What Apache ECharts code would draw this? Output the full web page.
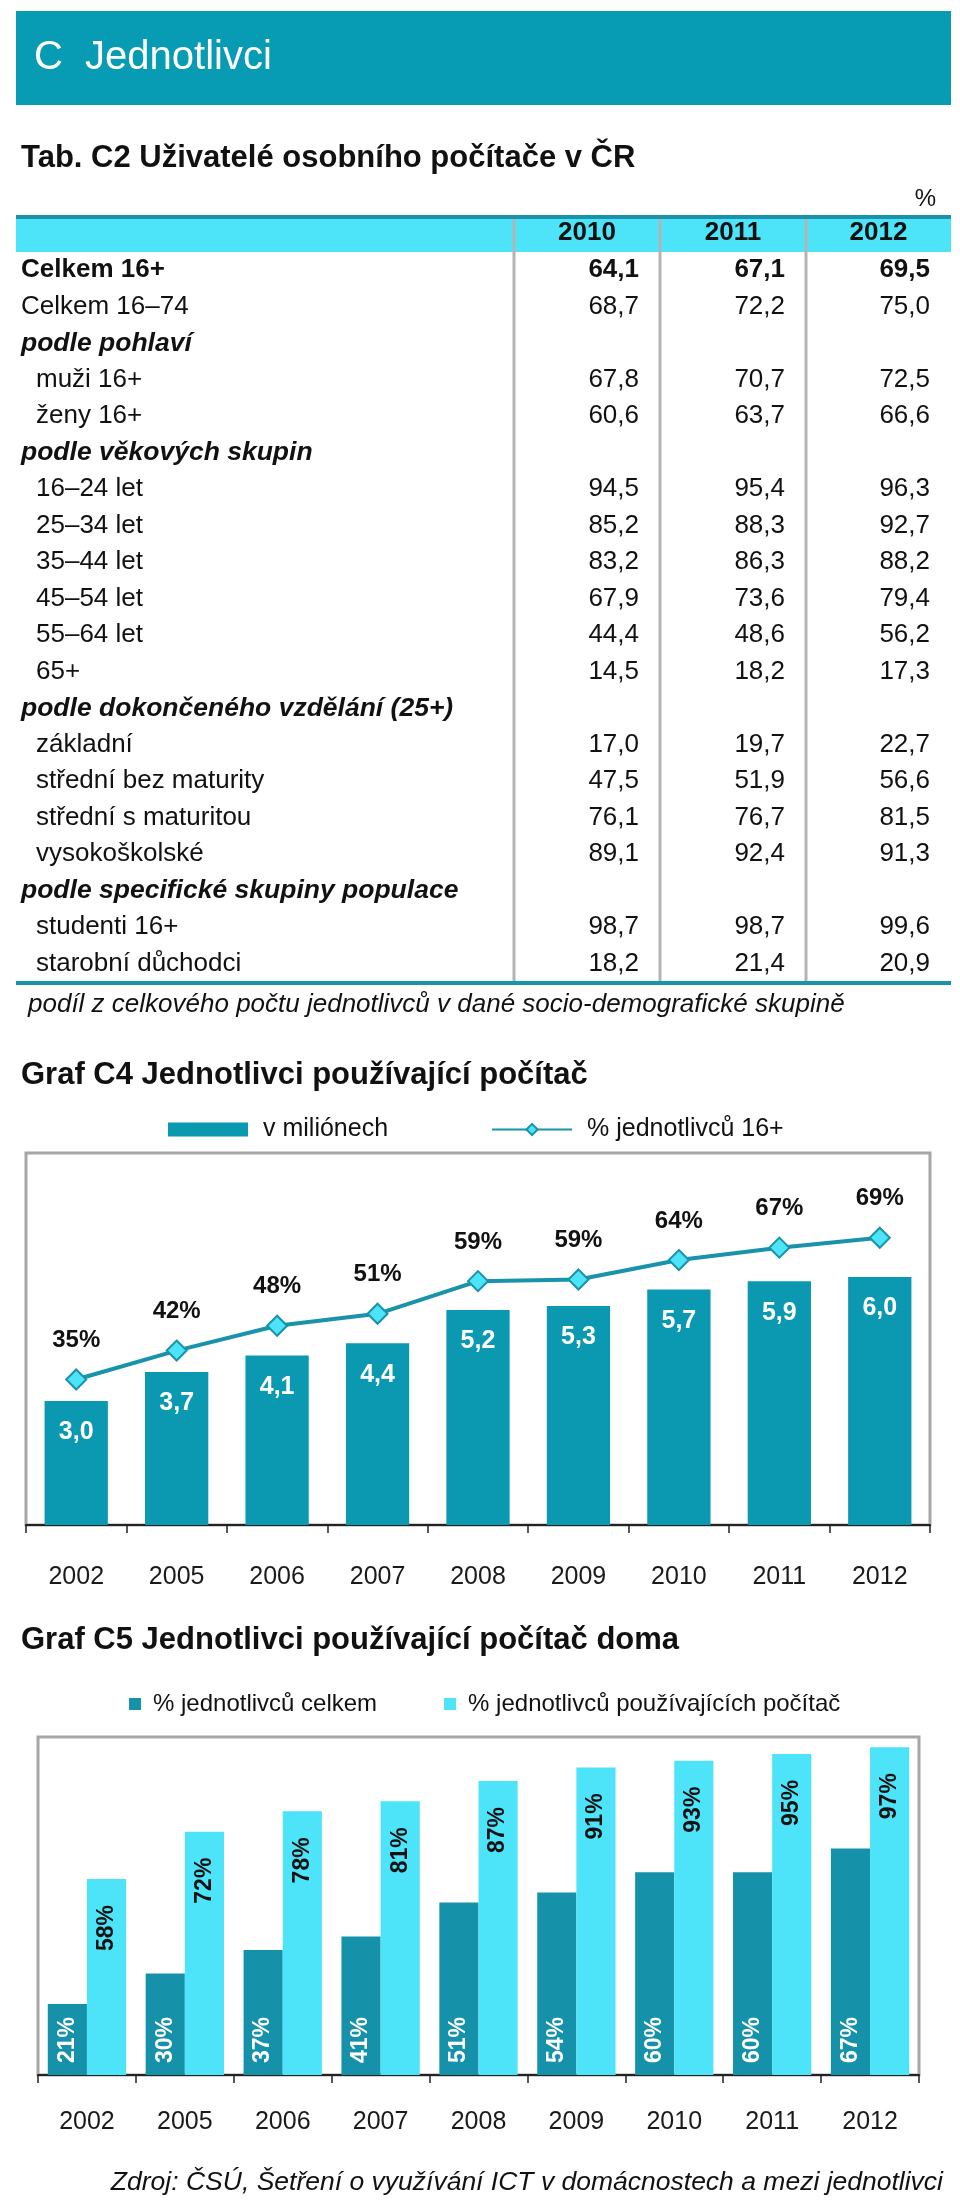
<!DOCTYPE html>
<html>
<head>
<meta charset="utf-8">
<script src="https://cdn.jsdelivr.net/npm/echarts@6/dist/echarts.min.js"></script>
<style>
  html, body { margin: 0; padding: 0; background: #ffffff; }
  #main { width: 960px; height: 2200px; }
</style>
</head>
<body>
<div id="main"></div>
<script>
// ---------- DATA ----------
const tableYears = ['2010', '2011', '2012'];
const tableRows = ['Celkem 16+', 'Celkem 16–74', 'podle pohlaví', 'muži 16+', 'ženy 16+',
  'podle věkových skupin', '16–24 let', '25–34 let', '35–44 let', '45–54 let', '55–64 let', '65+',
  'podle dokončeného vzdělání (25+)', 'základní', 'střední bez maturity', 'střední s maturitou', 'vysokoškolské',
  'podle specifické skupiny populace', 'studenti 16+', 'starobní důchodci'];
const rowKinds = ['total', 'plain', 'section', 'item', 'item', 'section', 'item', 'item', 'item', 'item', 'item', 'item',
  'section', 'item', 'item', 'item', 'item', 'section', 'item', 'item'];
const values2010 = [64.1, 68.7, null, 67.8, 60.6, null, 94.5, 85.2, 83.2, 67.9, 44.4, 14.5, null, 17.0, 47.5, 76.1, 89.1, null, 98.7, 18.2];
const values2011 = [67.1, 72.2, null, 70.7, 63.7, null, 95.4, 88.3, 86.3, 73.6, 48.6, 18.2, null, 19.7, 51.9, 76.7, 92.4, null, 98.7, 21.4];
const values2012 = [69.5, 75.0, null, 72.5, 66.6, null, 96.3, 92.7, 88.2, 79.4, 56.2, 17.3, null, 22.7, 56.6, 81.5, 91.3, null, 99.6, 20.9];

const years = ['2002', '2005', '2006', '2007', '2008', '2009', '2010', '2011', '2012'];
const usersMillions = [3.0, 3.7, 4.1, 4.4, 5.2, 5.3, 5.7, 5.9, 6.0];
const usersPct16 = [35.2, 42.2, 48.2, 51.1, 59.0, 59.4, 64.1, 67.1, 69.5];

const homeTotalPct = [21, 30, 37, 41, 51, 54, 60, 60, 67];
const homeUsersPct = [58, 72, 78, 81, 87, 91, 93, 95, 97];

// ---------- STYLE ----------
const FONT = '"Liberation Sans", Arial, Helvetica, sans-serif';
const TEAL = '#0b98b1';
const TEAL_LINE = '#1893aa';
const CYAN = '#4de3f9';
const BORDER = '#a6a6a6';

const chart = echarts.init(document.getElementById('main'), null, { renderer: 'canvas', width: 960, height: 2200 });

function fmtComma(v) { return v.toFixed(1).replace('.', ','); }

// ---------- TABLE (graphic) ----------
const graphics = [];
graphics.push({ type: 'rect', shape: { x: 16, y: 11, width: 935, height: 94 }, style: { fill: '#079bb4' }, silent: true });
graphics.push({ type: 'text', x: 34, y: 58, style: { text: 'C  Jednotlivci', fill: '#ffffff', font: '40px ' + FONT, verticalAlign: 'middle' } });
graphics.push({ type: 'text', x: 21, y: 158, style: { text: 'Tab. C2 Uživatelé osobního počítače v ČR', fill: '#111', font: 'bold 31px ' + FONT, verticalAlign: 'middle' } });
graphics.push({ type: 'text', x: 936, y: 199, style: { text: '%', fill: '#111', font: '24px ' + FONT, align: 'right', verticalAlign: 'middle' } });

const tLeft = 16, tRight = 951, tTop = 215, headH = 37, rowH = 36.5;
const colEdges = [514, 660, 806, 951];
const bodyTop = tTop + headH;
const bodyBottom = bodyTop + rowH * tableRows.length;
graphics.push({ type: 'rect', shape: { x: tLeft, y: tTop + 3, width: tRight - tLeft, height: headH - 3 }, style: { fill: CYAN }, silent: true });
graphics.push({ type: 'rect', shape: { x: tLeft, y: tTop, width: tRight - tLeft, height: 4 }, style: { fill: '#1a92a9' }, silent: true });
for (let c = 0; c < 3; c++) {
  graphics.push({ type: 'line', shape: { x1: colEdges[c], y1: tTop + 4, x2: colEdges[c], y2: bodyBottom }, style: { stroke: '#b3b3b3', lineWidth: 3 }, silent: true });
  graphics.push({ type: 'text', x: (colEdges[c] + colEdges[c + 1]) / 2, y: 233, style: { text: tableYears[c], fill: '#111', font: 'bold 26px ' + FONT, align: 'center', verticalAlign: 'middle' } });
}
graphics.push({ type: 'rect', shape: { x: tLeft, y: bodyBottom - 1, width: tRight - tLeft, height: 4 }, style: { fill: '#1a92a9' }, silent: true });

const colValues = [values2010, values2011, values2012];
tableRows.forEach((label, i) => {
  const kind = rowKinds[i];
  const cy = bodyTop + rowH * i + rowH / 2;
  let font = '26px ' + FONT;
  if (kind === 'total') font = 'bold 26px ' + FONT;
  if (kind === 'section') font = 'italic bold 26.5px ' + FONT;
  const x = kind === 'item' ? 36 : 21;
  graphics.push({ type: 'text', x: x, y: cy, style: { text: label, fill: '#111', font: font, verticalAlign: 'middle' } });
  colValues.forEach((arr, c) => {
    if (arr[i] == null) return;
    graphics.push({ type: 'text', x: colEdges[c + 1] - 21, y: cy, style: { text: fmtComma(arr[i]), fill: '#111', font: (kind === 'total' ? 'bold ' : '') + '26px ' + FONT, align: 'right', verticalAlign: 'middle' } });
  });
});
graphics.push({ type: 'text', x: 28, y: 1005, style: { text: 'podíl z celkového počtu jednotlivců v dané socio-demografické skupině', fill: '#111', font: 'italic 26px ' + FONT, verticalAlign: 'middle' } });

graphics.push({ type: 'text', x: 21, y: 1075, style: { text: 'Graf C4 Jednotlivci používající počítač', fill: '#111', font: 'bold 31px ' + FONT, verticalAlign: 'middle' } });
graphics.push({ type: 'text', x: 21, y: 1640, style: { text: 'Graf C5 Jednotlivci používající počítač doma', fill: '#111', font: 'bold 31px ' + FONT, verticalAlign: 'middle' } });
graphics.push({ type: 'text', x: 943, y: 2183, style: { text: 'Zdroj: ČSÚ, Šetření o využívání ICT v domácnostech a mezi jednotlivci', fill: '#111', font: 'italic 26.5px ' + FONT, align: 'right', verticalAlign: 'middle' } });

// ---------- CHART OPTION ----------
const axisLabelStyle = { color: '#1a1a1a', fontSize: 25, fontFamily: FONT };

const option = {
  backgroundColor: '#ffffff',
  animation: false,
  textStyle: { fontFamily: FONT },
  graphic: graphics,
  legend: [
    {
      left: 168, top: 1117, padding: 0, itemWidth: 80, itemHeight: 14, itemGap: 103,
      textStyle: { fontSize: 25, color: '#111', fontFamily: FONT, padding: [0, 0, 0, 10] },
      data: [{ name: 'v miliónech', icon: 'rect' }, { name: '% jednotlivců 16+' }]
    },
    {
      left: 129, top: 1692, padding: 0, itemWidth: 12, itemHeight: 12, itemGap: 67,
      textStyle: { fontSize: 24, color: '#111', fontFamily: FONT, padding: [0, 0, 0, 7] },
      data: [{ name: '% jednotlivců celkem', icon: 'rect' }, { name: '% jednotlivců používajících počítač', icon: 'rect' }]
    }
  ],
  grid: [
    { left: 26, right: 30, top: 1153, height: 372, show: true, borderColor: BORDER, borderWidth: 3, backgroundColor: 'transparent' },
    { left: 38, right: 41, top: 1737, height: 338, show: true, borderColor: BORDER, borderWidth: 3, backgroundColor: 'transparent' }
  ],
  xAxis: [
    {
      type: 'category', gridIndex: 0, data: years,
      axisLine: { lineStyle: { color: '#222', width: 2 } },
      axisTick: { show: true, length: 8, lineStyle: { color: '#222', width: 1.5 } },
      axisLabel: Object.assign({ margin: 40 }, axisLabelStyle)
    },
    {
      type: 'category', gridIndex: 1, data: years,
      axisLine: { lineStyle: { color: '#222', width: 2 } },
      axisTick: { show: true, length: 8, lineStyle: { color: '#222', width: 1.5 } },
      axisLabel: Object.assign({ margin: 35 }, axisLabelStyle)
    }
  ],
  yAxis: [
    { type: 'value', gridIndex: 0, min: 0, max: 9, show: false, splitLine: { show: false } },
    { type: 'value', gridIndex: 0, min: 0, max: 90, show: false, splitLine: { show: false } },
    { type: 'value', gridIndex: 1, min: 0, max: 100, show: false, splitLine: { show: false } }
  ],
  series: [
    {
      name: 'v miliónech', type: 'bar', xAxisIndex: 0, yAxisIndex: 0, data: usersMillions,
      barWidth: '63%', itemStyle: { color: TEAL },
      label: {
        show: true, position: 'insideTop', distance: 19, color: '#ffffff', fontWeight: 'bold', fontSize: 25, fontFamily: FONT,
        formatter: p => fmtComma(p.value)
      },
      z: 2
    },
    {
      name: '% jednotlivců 16+', type: 'line', xAxisIndex: 0, yAxisIndex: 1, data: usersPct16,
      symbol: 'diamond', symbolSize: 20,
      lineStyle: { color: TEAL_LINE, width: 4 },
      itemStyle: { color: CYAN, borderColor: TEAL_LINE, borderWidth: 2 },
      label: {
        show: true, position: 'top', distance: 16, color: '#111', fontWeight: 'bold', fontSize: 24, fontFamily: FONT,
        formatter: p => Math.floor(p.value) + '%'
      },
      z: 3
    },
    {
      name: '% jednotlivců celkem', type: 'bar', xAxisIndex: 1, yAxisIndex: 2, data: homeTotalPct,
      barGap: 0, barCategoryGap: '20%', itemStyle: { color: '#1591aa' },
      label: {
        show: true, position: 'insideBottom', distance: 12, rotate: 90, align: 'left', verticalAlign: 'middle',
        color: '#ffffff', fontWeight: 'bold', fontSize: 23, fontFamily: FONT, formatter: '{c}%'
      }
    },
    {
      name: '% jednotlivců používajících počítač', type: 'bar', xAxisIndex: 1, yAxisIndex: 2, data: homeUsersPct,
      barGap: 0, barCategoryGap: '20%', itemStyle: { color: CYAN },
      label: {
        show: true, position: 'insideTop', distance: 26, rotate: 90, align: 'right', verticalAlign: 'middle',
        color: '#111', fontWeight: 'bold', fontSize: 23, fontFamily: FONT, formatter: '{c}%'
      }
    }
  ]
};

chart.setOption(option);
</script>
</body>
</html>
